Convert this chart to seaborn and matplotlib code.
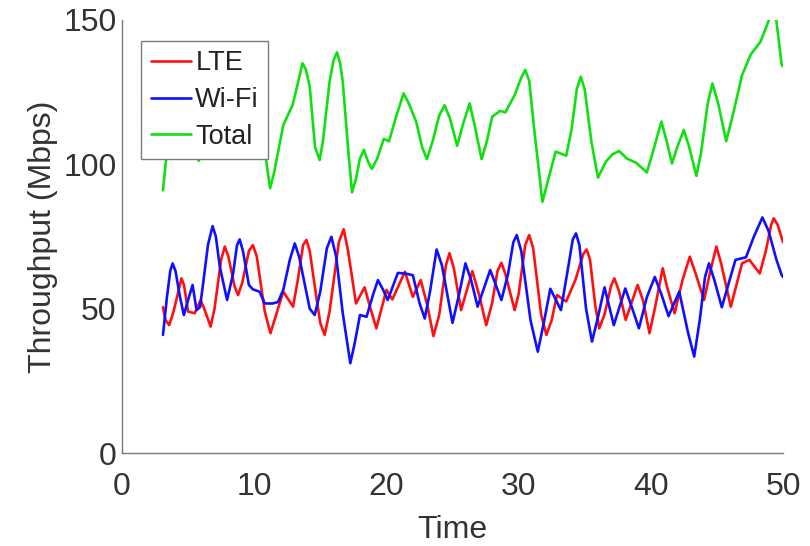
import pandas as pd
import matplotlib
matplotlib.use("Agg")
import matplotlib.pyplot as plt
import seaborn as sns

# values (time, Mbps)
lte_t = [3.1, 3.3, 3.57, 3.9, 4.5, 4.7, 5.0, 5.5, 5.95, 6.3, 6.7, 7.0, 7.5, 7.78, 8.05, 8.5,
         8.78, 9.1, 9.6, 9.9, 10.2, 10.8, 11.23, 11.6, 12.2, 12.94, 13.3, 13.7, 13.95, 14.2,
         14.7, 15.0, 15.33, 15.7, 16.4, 16.77, 17.1, 17.7, 18.35, 18.8, 19.24, 20.0, 20.45,
         21.4, 22.0, 22.6, 23.1, 23.56, 24.0, 24.5, 24.77, 25.1, 25.65, 26.5, 27.0, 27.55,
         28.0, 28.4, 28.7, 29.0, 29.7, 30.0, 30.5, 30.8, 31.1, 31.7, 32.1, 32.5, 32.9, 33.6,
         34.3, 34.9, 35.15, 35.4, 35.8, 36.1, 36.5, 37.0, 37.24, 37.6, 38.1, 39.0, 39.4, 39.9,
         40.3, 40.9, 41.2, 41.8, 42.4, 42.95, 43.4, 44.03, 44.5, 44.96, 45.3, 46.05, 46.9,
         47.45, 48.24, 48.7, 49.1, 49.3, 49.6, 50.0]
lte_v = [50.5, 46.0, 44.3, 49.0, 60.5, 58.0, 49.0, 48.4, 53.0, 49.0, 43.8, 50.0, 67.0, 71.5, 68.0, 58.0,
         54.7, 59.0, 70.0, 72.0, 68.0, 49.0, 41.5, 47.0, 55.9, 50.7, 60.0, 72.0, 73.8, 70.0,
         54.0, 45.0, 40.9, 49.0, 73.0, 77.5, 70.0, 51.8, 57.4, 50.0, 43.2, 56.5, 53.2,
         62.8, 54.1, 59.9, 51.0, 40.5, 48.0, 65.0, 69.2, 64.0, 49.5, 63.0, 55.0, 44.3,
         52.0, 63.0, 65.9, 62.0, 49.5, 55.0, 72.0, 75.5, 71.0, 48.0, 40.9, 46.0, 54.7, 52.5,
         60.0, 69.0, 70.5, 67.0, 51.0, 43.2, 48.0, 58.0, 60.5, 56.0, 46.1, 58.2, 53.0, 41.5,
         50.0, 64.0, 58.0, 48.4, 60.0, 68.0, 62.0, 53.0, 63.0, 71.5, 66.0, 50.7, 65.7,
         66.9, 62.2, 70.0, 79.0, 81.3, 79.0, 73.0]

wifi_t = [3.1, 3.4, 3.65, 3.83, 4.05, 4.38, 4.68, 5.0, 5.34, 5.64, 5.9, 6.14, 6.5, 6.85, 7.1,
          7.4, 7.95, 8.4, 8.7, 8.9, 9.15, 9.6, 9.9, 10.4, 10.8, 11.4, 11.8, 12.2, 12.7, 13.07,
          13.4, 14.2, 14.58, 15.0, 15.5, 15.84, 16.2, 16.7, 17.27, 17.6, 18.0, 18.5, 19.0,
          19.36, 19.7, 20.1, 20.87, 21.5, 22.0, 22.5, 22.9, 23.3, 23.8, 24.2, 25.0, 25.5,
          25.98, 26.4, 26.9, 27.85, 28.7, 29.2, 29.6, 29.86, 30.2, 30.9, 31.45, 31.9, 32.4,
          33.2, 33.7, 34.1, 34.34, 34.6, 35.1, 35.55, 36.0, 36.5, 37.2, 38.07, 38.6, 39.1,
          39.7, 40.3, 40.8, 41.34, 42.15, 42.8, 43.28, 43.7, 44.1, 44.4, 44.8, 45.37, 46.4,
          47.2, 47.8, 48.44, 48.9, 49.5, 49.9, 50.0]
wifi_v = [40.9, 54.0, 63.0, 65.7, 63.0, 54.2, 47.8, 53.0, 58.2, 49.5, 50.5, 58.8, 72.0, 78.6, 75.0,
          64.5, 53.0, 62.0, 72.0, 74.0, 70.0, 58.2, 56.7, 55.9, 51.8, 51.8, 52.3, 56.5, 67.0, 72.6,
          68.0, 50.0, 47.8, 56.0, 71.0, 74.9, 68.0, 48.4, 31.1, 38.0, 47.8, 47.2, 55.0,
          59.9, 57.0, 53.0, 62.4, 62.1, 61.6, 52.0, 46.6, 56.0, 70.5, 65.0, 45.1, 55.0,
          65.7, 60.0, 50.7, 63.4, 53.0, 62.0, 73.0, 75.5, 70.0, 46.0, 35.1, 45.0, 56.9,
          49.5, 63.0, 74.0, 76.1, 72.0, 50.0, 38.6, 47.0, 57.4, 44.3, 57.0, 50.0, 43.2,
          54.0, 61.0, 55.0, 47.4, 55.9, 42.0, 33.4, 46.0, 61.0, 65.7, 60.0, 50.5, 66.9,
          67.8, 75.0, 81.6, 77.0, 67.0, 61.6, 61.0]

total_t = [3.1, 3.3, 3.5, 4.5, 5.3, 5.8, 6.3, 7.8, 9.3, 10.5, 10.9, 11.2, 11.5, 12.2, 12.9,
           13.3, 13.65, 13.9, 14.2, 14.6, 14.95, 15.2, 15.7, 16.0, 16.26, 16.5, 16.7, 17.1,
           17.4, 17.7, 18.0, 18.3, 18.6, 18.9, 19.3, 19.8, 20.2, 20.7, 21.3, 21.7, 22.25,
           22.7, 23.06, 23.5, 24.0, 24.4, 24.8, 25.35, 25.8, 26.3, 26.7, 27.2, 27.6, 28.0,
           28.6, 29.0, 29.7, 30.2, 30.5, 30.8, 31.2, 31.8, 32.2, 32.8, 33.6, 34.0, 34.4,
           34.7, 35.0, 35.5, 36.0, 36.6, 37.1, 37.6, 38.2, 38.9, 39.7, 40.2, 40.8, 41.2,
           41.6, 42.0, 42.5, 42.9, 43.45, 43.8, 44.3, 44.66, 45.1, 45.7, 46.2, 46.9, 47.55,
           48.3, 48.9, 49.2, 49.5, 49.9, 50.0]
total_v = [91.0, 100.0, 108.0, 116.0, 108.0, 101.2, 106.0, 120.0, 115.0, 106.0, 101.5, 91.7, 97.0, 113.6, 120.5,
           128.0, 135.0, 133.0, 127.0, 106.0, 101.5, 108.0, 128.6, 136.0, 138.8, 135.0, 128.6, 105.5,
           90.3, 95.0, 102.0, 105.0, 101.0, 98.4, 102.0, 108.8, 108.0, 116.0, 124.6, 121.0, 114.8,
           106.0, 101.8, 108.0, 117.0, 120.5, 116.0, 106.4, 114.0, 121.1, 113.0, 101.8, 108.0, 116.5,
           118.5, 118.0, 124.0, 130.0, 132.7, 129.0, 111.3, 87.0, 94.0, 104.4, 103.0, 112.0, 126.0,
           130.3, 126.0, 108.0, 95.4, 100.9, 103.5, 104.6, 102.0, 100.5, 97.2, 105.0, 114.8, 108.0,
           100.3, 106.0, 111.9, 106.0, 96.0, 104.0, 121.0, 128.0, 121.0, 108.0, 117.0, 130.9, 138.0,
           142.5, 149.6, 153.0, 149.6, 134.4, 134.0]

df = pd.concat([
    pd.DataFrame({"Time": lte_t, "Throughput": lte_v, "Series": "LTE"}),
    pd.DataFrame({"Time": wifi_t, "Throughput": wifi_v, "Series": "Wi-Fi"}),
    pd.DataFrame({"Time": total_t, "Throughput": total_v, "Series": "Total"}),
], ignore_index=True)

sns.set_style("white")
plt.rcParams["font.family"] = ["Liberation Sans", "DejaVu Sans"]

fig = plt.figure(figsize=(8.1, 5.46), dpi=100)
ax = fig.add_axes([0.1506, 0.1703, 0.8161, 0.7931])

sns.lineplot(data=df, x="Time", y="Throughput", hue="Series", estimator=None, sort=True,
             palette={"LTE": "#ff1010", "Wi-Fi": "#1010ff", "Total": "#10e010"},
             linewidth=1.9, ax=ax)

ax.set_xlim(0, 50)
ax.set_ylim(0, 150)
ax.set_xticks([0, 10, 20, 30, 40, 50])
ax.set_yticks([0, 50, 100, 150])
for side in ["top", "right"]:
    ax.spines[side].set_visible(False)
for side in ["left", "bottom"]:
    ax.spines[side].set_color("#7a7a7a")
    ax.spines[side].set_linewidth(1.0)
ax.tick_params(direction="in", length=5, width=1, color="#7a7a7a",
               labelsize=23, labelcolor="#333333")
ax.tick_params(axis="x", pad=14)
ax.tick_params(axis="y", pad=4)
ax.set_xlabel("Time", fontsize=23, color="#333333", labelpad=9)
ax.set_ylabel("Throughput (Mbps)", fontsize=23, color="#333333", labelpad=4)

leg = ax.legend(loc="upper left", bbox_to_anchor=(0.029, 0.952), borderaxespad=0,
                fontsize=19.5, frameon=True, fancybox=False, framealpha=1,
                edgecolor="#7a7a7a", handlelength=1.5, handletextpad=0.15,
                labelspacing=0.4, borderpad=0.35)
leg.set_zorder(10)
leg.get_frame().set_linewidth(1.0)
for txt in leg.get_texts():
    txt.set_color("#222222")

fig.savefig("out.png", dpi=100)
